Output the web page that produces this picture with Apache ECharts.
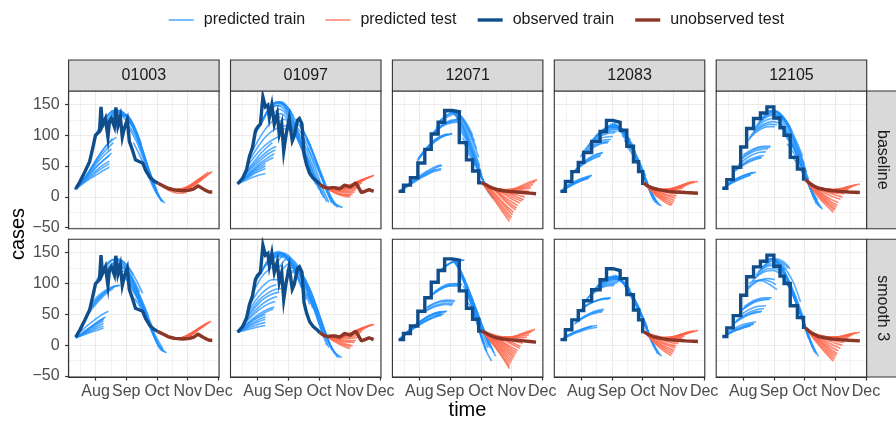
<!DOCTYPE html>
<html>
<head>
<meta charset="utf-8">
<script src="https://cdn.jsdelivr.net/npm/echarts@6/dist/echarts.min.js"></script>
<style>
  html, body { margin: 0; padding: 0; background: #fff; }
  #chart { width: 896px; height: 422px; }
</style>
</head>
<body>
<div id="chart"></div>
<script>
// facets
const counties = ['01003', '01097', '12071', '12083', '12105'];
const models = ['baseline', 'smooth 3'];
const monthLabels = ['Aug', 'Sep', 'Oct', 'Nov', 'Dec'];
const yTicks = [-50, 0, 50, 100, 150];
// day offsets (from 1 Jul) at which Jul..Jan start
const monthStartDays = [0, 31, 62, 92, 123, 153, 184];
// counties reported weekly -> drawn as steps
const stepCounties = ['12071', '12083', '12105'];

// observed series: [day since 1 Jul, cases]
const obsTrain01003 = [[11,13],[15,24],[20,40],[25,57],[28,78],[31,100],[33,103],[35,106],[36.5,146],[38,116],[41,127],[43.5,97],[45,122],[47,127],[50,114],[51.5,145],[53.5,115],[56,130],[58,97],[60,111],[63,125],[65,90],[68,76],[71,60],[75,57],[78,55],[81,43],[85,32],[89,26],[93,22]];
const obsTest01003 = [[93,22],[98,18],[103,14],[110,11],[118,10],[125,11],[129,13],[133,18],[136,15],[140,11],[144,8],[147,8]];
const obsTrain01097 = [[11,21],[16,30],[20,44],[23,66],[26,80],[29,107],[31,113],[34,118],[36.5,162],[39,146],[41.5,149],[43,129],[45.5,149],[48,118],[51,135],[53,102],[55.5,118],[57.5,74],[60,102],[63,127],[66,91],[68,99],[71,124],[73,127],[75.5,118],[77.5,69],[80,52],[83,38],[86.5,30],[91,24],[93,20]];
const obsTest01097 = [[93,20],[97,16],[101,14],[105,15],[108,15],[113,13],[118,19],[124,16],[129,23],[131.5,16],[134.5,7],[138,9],[142,12],[146.5,9]];
const obsTrain12071 = [[10,9],[15,19],[22,31],[29.5,55],[36.5,77],[43,102],[50,121],[56.5,140],[64,138],[71,88],[78,60],[84,42],[90,23],[93,23]];
const obsTest12071 = [[93,23],[97,20],[100,17],[104,14],[108,12],[114,10],[120,9],[128,8],[135,7],[141,6],[147,5]];
const obsTrain12083 = [[10,9],[15,25],[21.5,41],[28,56],[33.5,72],[41.5,90],[50,106],[56.5,124],[63,121],[70,108],[76.5,82],[83,57],[88,41],[92,22],[93,22]];
const obsTest12083 = [[93,22],[97,18],[102,14],[110,11],[118,9],[126,8],[135,7],[147,6]];
const obsTrain12105 = [[10,14],[14.5,28],[21,48],[28.5,81],[34.5,111],[41.5,127],[48.5,136],[55,146],[62,128],[68,112],[72,100],[78,64],[85,45],[91,29],[93,28]];
const obsTest12105 = [[93,28],[97,22],[101,18],[106,14],[112,12],[120,10],[128,9],[136,8],[147,7]];

// predicted curves: [start day, value at start, +7 days, +14 days, ...]
const predTrainBase01003 = [
  [10,12,20,28,35,42,48],[10,12,22,32,42,51,58],[10,12,24,36,48,58,67],[12,15,28,42,56,68,78],
  [14,18,33,49,64,77,88],[17,22,40,58,75,88,97],[31,100,122,135,138,130],[35,108,128,140,140,128],
  [38,112,130,140,136,120],[42,118,133,137,128,108],[45,120,132,134,120,98],[49,124,134,132,114,84],
  [53,128,134,120,92,58,26],[57,130,128,108,76,40,10],[61,126,114,86,52,18,-4],[65,110,90,60,28,2,-10],
  [69,88,64,36,10,-8],
  [10,12,21,30,39,47,54],[12,15,26,38,50,61,71],[20,30,48,66,82,94],[33,104,125,138,140,130],
  [40,115,132,139,133,115],[47,122,133,134,118,92],[55,130,132,116,86,50,18],[59,128,120,98,64,28,2],
  [63,118,102,74,40,10,-8]
];
const predTestBase01003 = [
  [94,22,16,13,12,13],[94,22,13,8,6,7],[98,18,14,12,13,16],[101,16,12,12,15,20],[105,14,12,14,19,26],
  [108,12,12,16,23,31],[112,11,13,19,27,36],[115,10,14,21,30,40],[119,10,15,23,32,41],
  [96,20,14,11,11,14],[103,15,12,13,17,23],[110,12,12,17,25,33],[117,10,14,22,31,40]
];
const predTrainSmooth01003 = [
  [11,12,16,20,24,28],[11,12,18,24,30,35],[11,12,20,28,35,42],[13,14,22,31,39,46],[16,22,32,41,49,55],
  [21,45,60,73,84,92],[24,55,70,82,91,97],[28,70,82,90,95,97],[32,105,125,137,140,134],
  [36,112,130,139,137,126,108,84],[40,118,132,136,128,110,86],[45,122,131,128,112,88,60,32],
  [50,122,126,114,92,64,34,6],[55,118,112,94,68,40,12,-8],[60,110,96,74,48,20,-6,-12],
  [65,96,78,54,28,2,-11],[70,76,58,36,14,-6],
  [11,12,17,22,27,31],[11,12,19,26,33,39],[12,13,21,29,37,44],[22,50,65,78,88,95],[26,62,76,86,93,97],
  [34,108,128,138,139,131,114],[42,120,132,133,122,100,74,46],[47,122,129,122,104,78,48,20],
  [52,120,120,106,82,52,22,-2],[57,114,104,84,58,30,4,-10]
];
const predTestSmooth01003 = [
  [94,22,15,11,10,12],[98,18,12,10,12,16],[102,15,11,11,15,21],[106,13,11,14,20,27],
  [110,12,12,17,24,32],[114,11,14,20,28,36],[118,10,15,23,31,39],
  [96,20,13,10,11,14],[100,16,11,10,13,18],[104,14,11,12,17,24],[108,12,11,15,22,30],
  [112,11,13,19,26,34],[116,10,14,21,30,38]
];
const predTrainBase01097 = [
  [11,21,26,31,35,38],[11,21,28,35,41,46],[11,21,30,39,47,54],[13,24,34,45,55,63,70],[15,30,43,56,67,76,82],
  [18,38,52,66,78,88],[21,50,65,78,88,95,100],[26,75,95,112,124,130],[30,105,128,145,152,150,138],
  [34,115,138,152,154,144,124],[38,130,148,154,146,126,98],[43,135,148,144,126,100,70],
  [48,128,135,124,102,74,44],[54,112,116,104,80,50,20],[60,110,106,88,62,32,4],[65,115,104,80,50,18,-8],
  [70,122,106,80,48,16,-10],[76,110,86,56,24,-4,-17],[81,80,56,30,6,-12,-17],
  [11,21,29,37,44,50],[12,22,32,42,51,58,64],[14,27,39,51,61,70,76],[24,62,80,95,106,112],
  [32,110,133,149,153,147,131],[36,122,143,153,150,135,111],[41,133,148,149,136,113,84],
  [46,132,142,134,114,87,57],[51,120,126,114,91,62,32],[57,110,110,96,71,41,12],[62,112,105,84,56,25,-2],
  [67,118,105,80,49,17,-9],[73,118,96,68,36,6,-14],[79,95,70,44,16,-8,-17]
];
const predTestBase01097 = [
  [95,19,12,6,2,0],[98,17,11,6,4,4],[101,15,11,9,9,11],[105,15,13,13,15,19],
  [108,15,15,17,21,26],[112,14,16,20,25,30],[116,16,19,24,29,33],[119,17,21,26,31,35],
  [96,18,11,6,3,2],[100,16,11,8,7,8],[103,15,12,11,12,15],[107,15,14,15,18,23],
  [110,14,15,18,23,28],[114,15,17,22,27,31],[118,16,20,25,30,34]
];
const predTrainSmooth01097 = [
  [11,21,24,27,30,32],[11,21,27,33,38,42],[11,21,30,38,45,50],[13,24,34,44,52,58,62],[16,32,46,58,68,75,79],
  [20,45,62,75,84,90,92],[25,70,88,100,106,106],[30,105,125,138,144,142,132],[34,115,135,148,150,142,124],
  [38,128,145,152,146,130,104],[43,132,145,146,134,112,82],[48,140,150,146,128,100,66],
  [54,128,140,136,118,88,54],[60,120,126,114,90,58,24],[65,118,116,96,66,32,0],
  [70,125,112,88,56,22,-8],[76,112,90,60,28,-2,-20],[80,84,60,34,8,-12,-20],
  [11,21,26,30,34,37],[11,21,28,35,41,46],[12,22,32,41,48,54,59],[14,28,40,51,60,67,71],
  [18,38,54,67,77,83,86],[22,55,72,85,94,98],[28,90,110,122,128,128],[32,110,130,143,147,142,128],
  [36,122,140,150,148,136,114],[40,130,146,150,140,121,93],[45,136,148,146,131,106,74],
  [51,134,145,141,123,94,60],[57,124,133,125,104,73,39],[62,119,121,105,78,45,12],
  [67,121,114,92,61,27,-4],[73,120,102,74,42,10,-14],[78,98,75,47,18,-7,-20]
];
const predTestSmooth01097 = [
  [95,19,12,5,-1,-6],[98,17,11,6,2,-1],[101,15,11,8,7,8],[105,14,12,12,14,18],
  [108,14,14,17,21,25],[112,14,16,20,25,29],[116,16,19,24,29,33],[119,17,21,26,30,34],
  [96,18,11,5,1,-3],[100,16,11,7,5,5],[103,15,11,10,11,13],[107,14,13,15,18,22],
  [110,14,15,18,23,27],[114,15,17,22,27,31],[118,16,20,25,30,33]
];
const predTrainBase12071 = [
  [11,9,17,25,32,38,43,46],[11,9,18,27,35,42,48,52],[13,11,19,27,34,40,45],[29,58,72,84,93,99,102],
  [30,62,77,89,97,102],[32,66,80,91,98,102],[43,98,110,118,122,123],[44,102,113,120,124,125],
  [50,120,130,136,138],[56,136,140,136,122,100],[60,138,138,126,105,78],[63,138,130,110,82,50],
  [66,135,118,92,60,28],[70,118,98,70,40,12],[74,96,76,50,24,2],[78,76,56,34,12,-4],
  [11,9,16,23,30,36,41,44],[12,10,18,26,34,41,47,51],[29,60,75,87,95,100,103],[31,64,78,90,97,101],
  [42,96,108,116,120,121],[45,104,115,122,125,125],[48,112,125,132,135],[52,124,133,138,139],
  [58,138,140,132,114,90],[62,138,134,118,94,64],[65,136,122,98,68,36],[68,128,108,80,50,20],
  [72,108,88,60,32,6],[76,86,66,42,18,-2]
];
const predTestBase12071 = [
  [93,23,8,-8,-24,-40],[95,21,8,-6,-20,-33],[97,20,9,-3,-15,-25],[100,18,10,0,-10,-18],
  [103,16,10,3,-4,-10],[107,14,10,5,0,-5],[110,13,11,8,6,5],[114,12,12,12,13,15],
  [118,11,13,16,20,25],[120,10,14,19,24,28],
  [94,22,8,-7,-22,-36],[96,21,9,-4,-17,-29],[99,19,10,-1,-12,-21],[101,17,10,1,-7,-14],
  [105,15,10,4,-2,-7],[108,14,11,6,3,0],[112,12,11,10,9,10],[116,11,12,14,16,20]
];
const predTrainSmooth12071 = [
  [11,10,20,29,37,44,49,52],[11,10,19,27,34,40,45,48],[14,13,22,30,37,43,48,51],[30,36,44,50,53,54],
  [37,56,62,66,68,67],[38,60,66,70,71,70],[43,80,88,94,96,96],[45,84,92,97,99,97],
  [52,120,130,136,138],[55,124,133,137,138],[64,138,124,100,70,38],[66,138,114,80,42,4],
  [68,136,108,72,34,-4,-26],[70,130,100,64,26,-10],[72,118,94,64,32,0],[75,96,76,50,22,-6],
  [79,70,52,30,6,-18],
  [11,10,21,31,39,46,51,54],[12,11,20,28,36,42,47,50],[31,37,45,51,54,55],[36,54,60,64,66,65],
  [39,62,68,72,73,72],[44,82,90,95,97,97],[46,86,94,99,100,98],[53,122,131,136,138],[54,123,132,137,138],
  [65,138,120,92,58,22],[67,137,112,78,40,2],[69,134,104,68,30,-8],[71,124,98,66,30,-4],
  [73,110,88,60,28,-4],[77,84,64,40,14,-12]
];
const predTestSmooth12071 = [
  [93,23,10,-4,-20,-38],[94,23,11,-2,-16,-30],[96,22,12,0,-12,-24],[98,21,12,2,-8,-18],
  [100,20,13,4,-4,-12],[103,18,13,7,1,-5],[106,16,13,9,6,3],[110,14,13,12,12,13],
  [114,12,13,15,18,21],[118,11,14,18,22,26],
  [93,23,10,-3,-18,-34],[95,22,11,-1,-14,-27],[97,21,12,1,-10,-21],[99,20,12,3,-6,-15],
  [101,19,13,5,-2,-9],[104,17,13,8,3,-2],[108,15,13,10,9,8],[112,13,13,13,15,17],[116,12,13,16,20,24]
];
const predTrainBase12083 = [
  [10,9,15,21,26,30],[12,12,18,24,29,33],[14,16,22,28,32,35],[22,38,48,56,62,66],[24,42,52,61,67,71],
  [30,65,74,81,86,88],[33,74,82,88,92,93],[37,82,92,99,103,104],[41,90,100,106,109,109],
  [45,98,107,112,113,110],[50,104,112,114,110,100],[55,112,116,112,100,82],[60,118,114,102,84,60,34],
  [64,120,110,92,68,40,10],[68,112,98,76,50,22,-6],[72,100,84,62,36,10,-12],[76,84,66,44,20,-4,-15],
  [11,10,16,22,27,31],[13,14,20,26,30,34],[23,40,50,58,64,68],[25,44,54,63,69,72],[31,68,77,84,88,90],
  [35,78,87,94,97,98],[39,86,96,103,106,106],[43,94,104,109,111,110],[47,100,109,113,112,106],
  [52,108,114,114,106,92],[57,114,116,108,92,72],[62,120,112,98,76,50,22],[66,116,104,84,58,30,2],
  [70,106,92,70,44,16,-10],[74,92,76,54,28,4,-14]
];
const predTestBase12083 = [
  [93,22,10,0,-8,-14],[95,20,10,2,-4,-9],[97,19,11,5,1,-2],[100,17,12,8,6,6],[104,15,12,11,12,14],
  [108,13,12,13,16,20],[112,12,13,16,20,24],[116,11,14,18,22,25],[119,10,14,18,22,25],
  [94,21,10,1,-6,-12],[96,20,10,3,-2,-6],[98,18,11,6,3,2],[102,16,12,10,9,10],[106,14,12,12,14,17],
  [110,12,12,14,18,22],[114,11,13,17,21,25]
];
const predTrainSmooth12083 = [
  [12,10,16,21,26,30,32],[14,14,19,24,28,31],[24,34,42,48,52,54],[26,38,46,52,56,58],[31,58,66,71,74,75],
  [33,62,68,73,76,77],[36,74,84,92,96,97],[39,80,90,97,101,101],[43,88,98,104,106,104],
  [47,96,104,108,107,100],[52,104,110,110,103,90],[58,110,110,102,86,64,40],[62,112,108,96,78,54,28],
  [65,114,104,88,66,40,12],[68,112,98,78,54,26,-2],[72,104,88,66,40,12,-14],[76,90,72,50,24,-2,-18],
  [12,10,15,20,24,27,29],[13,12,18,23,27,30],[25,36,44,50,54,56],[32,60,67,72,75,76],[37,76,86,94,98,99],
  [41,84,94,101,104,103],[45,92,101,106,107,103],[50,100,107,109,105,95],[55,108,110,106,95,78,56],
  [60,111,108,99,82,60,34],[63,113,106,92,72,47,20],[66,113,101,83,60,33,5],[70,108,93,72,47,19,-8],
  [74,97,80,58,32,5,-16]
];
const predTestSmooth12083 = [
  [93,23,10,-1,-10,-17],[95,21,10,1,-6,-11],[97,20,11,4,-1,-4],[100,18,12,7,4,3],[104,16,12,10,10,12],
  [108,14,12,13,15,18],[112,12,13,15,19,22],[116,11,13,17,20,23],[119,10,13,17,21,24],
  [94,22,10,0,-8,-14],[96,20,10,2,-4,-8],[98,19,11,5,1,-1],[102,17,12,8,7,7],[106,15,12,11,12,15],
  [110,13,12,14,17,20],[114,12,13,16,20,23]
];
const predTrainBase12105 = [
  [10,13,20,26,31,35],[13,18,25,31,36,39],[16,22,29,34,38,40],[21,40,48,55,60,63],[24,45,54,61,65,67],
  [28,60,68,74,77,78],[31,68,75,80,82,82],[35,90,102,110,114,114],[39,100,112,119,122,120],
  [43,112,124,131,132,126],[47,122,132,136,132,120],[52,132,140,138,126,106],[57,138,138,128,108,82,52],
  [61,140,134,116,90,60,28],[65,128,114,92,64,34,4],[69,114,98,74,46,16,-12],[73,100,82,58,30,2,-18],
  [77,72,56,36,14,-6],
  [11,14,21,27,32,36],[14,19,26,32,36,39],[22,42,50,57,62,64],[26,52,61,68,72,73],[30,64,72,78,80,80],
  [37,95,107,115,118,117],[41,106,118,125,127,123],[45,117,128,134,132,123],[50,128,137,138,129,113],
  [55,136,140,133,117,94,66],[59,140,136,122,99,71,40],[63,134,124,104,77,47,16],[67,121,106,83,55,25,-4],
  [71,107,90,66,38,9,-15],[75,86,69,47,22,-2,-20]
];
const predTestBase12105 = [
  [93,27,12,-2,-14,-25],[95,25,12,0,-11,-20],[97,23,12,2,-7,-14],[100,20,12,5,0,-4],[104,17,12,8,6,5],
  [108,15,12,11,11,12],[112,13,12,12,14,17],[116,12,12,14,17,20],[119,11,12,15,18,21],
  [94,26,12,-1,-12,-22],[96,24,12,1,-9,-17],[98,22,12,3,-4,-9],[102,18,12,7,3,0],[106,16,12,10,9,9],
  [110,14,12,11,13,15],[114,12,12,13,16,19]
];
const predTrainSmooth12105 = [
  [10,13,19,24,28,31],[13,16,22,27,31,34],[16,22,28,33,36,38],[21,34,42,48,52,54],[24,40,48,54,58,59],
  [29,56,64,70,73,74],[32,62,70,75,77,77],[35,90,100,106,108,106],[37,100,105,104,98,90],
  [42,108,118,124,124,118],[46,118,128,132,130,122],[50,126,136,140,136,124],[56,140,138,126,104,76,44],
  [60,142,132,112,84,52,18],[63,136,122,98,68,36,4],[67,120,104,80,50,18,-12],[71,108,90,64,34,4,-18],
  [11,14,20,25,29,32],[14,18,24,29,33,35],[22,36,44,50,54,55],[26,46,54,60,63,64],[30,58,66,72,75,75],
  [36,94,103,106,104,98],[40,104,114,120,121,116],[44,114,124,129,129,122],[48,122,132,137,135,125],
  [53,134,140,136,122,102,70],[58,141,136,120,94,64,31],[61,140,128,106,77,45,11],[65,128,113,89,59,27,-4],
  [69,114,97,72,42,11,-15]
];
const predTestSmooth12105 = [
  [93,28,13,-1,-14,-26],[95,26,13,1,-10,-20],[97,24,13,3,-6,-14],[100,21,13,6,0,-5],[104,18,13,9,6,5],
  [108,16,13,11,11,12],[112,14,13,13,15,17],[116,12,13,15,18,20],[119,11,13,16,19,21],
  [94,27,13,0,-12,-23],[96,25,13,2,-8,-17],[98,22,13,5,-3,-9],[102,19,13,8,3,0],[106,17,13,10,9,9],
  [110,15,13,12,13,15],[114,13,13,14,16,19]
];

const observed = {
  '01003': [obsTrain01003, obsTest01003], '01097': [obsTrain01097, obsTest01097],
  '12071': [obsTrain12071, obsTest12071], '12083': [obsTrain12083, obsTest12083],
  '12105': [obsTrain12105, obsTest12105]
};
const predicted = {
  'baseline': {
    '01003': [predTrainBase01003, predTestBase01003], '01097': [predTrainBase01097, predTestBase01097],
    '12071': [predTrainBase12071, predTestBase12071], '12083': [predTrainBase12083, predTestBase12083],
    '12105': [predTrainBase12105, predTestBase12105]
  },
  'smooth 3': {
    '01003': [predTrainSmooth01003, predTestSmooth01003], '01097': [predTrainSmooth01097, predTestSmooth01097],
    '12071': [predTrainSmooth12071, predTestSmooth12071], '12083': [predTrainSmooth12083, predTestSmooth12083],
    '12105': [predTrainSmooth12105, predTestSmooth12105]
  }
};

// day offset -> position on a month axis (Aug = 8 ... Dec = 12)
function monthPos(day) {
  for (let m = 0; m < monthStartDays.length - 1; m++) {
    const a = monthStartDays[m], b = monthStartDays[m + 1];
    if (day < b) return 7 + m + (day - a) / (b - a);
  }
  return 13;
}
function curvePoints(row) {
  return row.slice(1).map((v, k) => [monthPos(row[0] + 7 * k), v]);
}

const FONT = '"Liberation Sans", Arial, sans-serif';
const COL = {
  predTrain: '#1E90FF', predTest: '#FF6347', obsTrain: '#104E8B', obsTest: '#8B3626'
};
const panelW = 150.5, panelH = 137.7;
const panelLefts = counties.map((c, i) => 68.6 + i * 161.9);
const panelTops = [91, 239.3];
const xMin = monthPos(3.8), xMax = monthPos(153.7);
const yMin = -51.6, yMax = 171.7;
const frame = { color: '#333333', width: 1.1 };

const grids = [], xAxes = [], yAxes = [], series = [], graphics = [];

models.forEach((model, row) => {
  counties.forEach((county, col) => {
    const g = row * counties.length + col;
    const bottomRow = row === models.length - 1, leftCol = col === 0;
    grids.push({
      left: panelLefts[col], top: panelTops[row], width: panelW, height: panelH,
      show: false, containLabel: false
    });
    xAxes.push({
      type: 'value', gridIndex: g, min: xMin, max: xMax, position: 'bottom',
      splitNumber: 5, minInterval: 1, maxInterval: 1,
      axisLine: { show: bottomRow, onZero: false, lineStyle: frame },
      axisTick: {
        show: bottomRow, length: 3.5, customValues: [8, 9, 10, 11, 12],
        lineStyle: { color: '#333333', width: 1.2 }
      },
      axisLabel: {
        show: bottomRow, customValues: [8, 9, 10, 11, 12], margin: 7,
        formatter: v => monthLabels[Math.round(v) - 8],
        color: '#4D4D4D', fontSize: 16, fontFamily: FONT
      },
      splitLine: { show: true, lineStyle: { color: '#EBEBEB', width: 1.1 } },
      minorTick: { show: false, splitNumber: 2 },
      minorSplitLine: { show: true, lineStyle: { color: '#EBEBEB', width: 0.6 } }
    });
    yAxes.push({
      type: 'value', gridIndex: g, min: yMin, max: yMax, position: 'left',
      splitNumber: 5, minInterval: 50, maxInterval: 50,
      axisLine: { show: leftCol, onZero: false, lineStyle: frame },
      axisTick: {
        show: leftCol, length: 3.5, customValues: yTicks,
        lineStyle: { color: '#333333', width: 1.2 }
      },
      axisLabel: {
        show: leftCol, customValues: yTicks, margin: 9,
        formatter: v => (v < 0 ? '\u2212' + Math.abs(v) : String(v)),
        color: '#4D4D4D', fontSize: 16, fontFamily: FONT
      },
      splitLine: { show: true, lineStyle: { color: '#EBEBEB', width: 1.1 } },
      minorTick: { show: false, splitNumber: 2 },
      minorSplitLine: { show: true, lineStyle: { color: '#EBEBEB', width: 0.6 } }
    });

    const [trainCurves, testCurves] = predicted[model][county];
    const [obsTrain, obsTest] = observed[county];
    const base = { type: 'line', xAxisIndex: g, yAxisIndex: g, symbol: 'none', silent: true, animation: false };

    trainCurves.forEach(c => series.push(Object.assign({}, base, {
      name: 'predicted train', data: curvePoints(c), smooth: 0.35,
      lineStyle: { color: COL.predTrain, width: 1.6, opacity: 0.75 }, itemStyle: { color: COL.predTrain }
    })));
    testCurves.forEach(c => series.push(Object.assign({}, base, {
      name: 'predicted test', data: curvePoints(c), smooth: 0.35,
      lineStyle: { color: COL.predTest, width: 1.6, opacity: 0.8 }, itemStyle: { color: COL.predTest }
    })));
    series.push(Object.assign({}, base, {
      name: 'observed train', data: obsTrain.map(p => [monthPos(p[0]), p[1]]),
      step: stepCounties.includes(county) ? 'end' : false,
      lineStyle: { color: COL.obsTrain, width: 3.4, join: 'miter' }, itemStyle: { color: COL.obsTrain }
    }));
    series.push(Object.assign({}, base, {
      name: 'unobserved test', data: obsTest.map(p => [monthPos(p[0]), p[1]]),
      lineStyle: { color: COL.obsTest, width: 3.4 }, itemStyle: { color: COL.obsTest }
    }));

    // panel border on top of the data
    graphics.push({
      type: 'rect', z: 100, silent: true,
      shape: { x: panelLefts[col], y: panelTops[row], width: panelW, height: panelH },
      style: { fill: 'none', stroke: '#333333', lineWidth: 1.1 }
    });
  });
});

// column strips
counties.forEach((county, col) => {
  graphics.push({
    type: 'rect', z: 100, silent: true,
    shape: { x: panelLefts[col], y: 60, width: panelW, height: 31 },
    style: { fill: '#D9D9D9', stroke: '#333333', lineWidth: 1.1 }
  });
  graphics.push({
    type: 'text', z: 101, silent: true, x: panelLefts[col] + panelW / 2, y: 75.5,
    style: { text: county, fill: '#1A1A1A', font: '16px ' + FONT, align: 'center', verticalAlign: 'middle' }
  });
});
// row strips
models.forEach((model, row) => {
  const x0 = panelLefts[4] + panelW;
  graphics.push({
    type: 'rect', z: 100, silent: true,
    shape: { x: x0, y: panelTops[row], width: 31, height: panelH },
    style: { fill: '#D9D9D9', stroke: '#333333', lineWidth: 1.1 }
  });
  graphics.push({
    type: 'text', z: 101, silent: true, x: x0 + 15.5, y: panelTops[row] + panelH / 2,
    rotation: -Math.PI / 2,
    style: { text: model, fill: '#1A1A1A', font: '16px ' + FONT, align: 'center', verticalAlign: 'middle' }
  });
});
// axis titles
graphics.push({
  type: 'text', silent: true, x: 18, y: 234, rotation: Math.PI / 2,
  style: { text: 'cases', fill: '#000', font: '20px ' + FONT, align: 'center', verticalAlign: 'middle' }
});
graphics.push({
  type: 'text', silent: true, x: 467.5, y: 410,
  style: { text: 'time', fill: '#000', font: '20px ' + FONT, align: 'center', verticalAlign: 'middle' }
});

const chart = echarts.init(document.getElementById('chart'), null, { renderer: 'canvas' });
chart.setOption({
  animation: false,
  backgroundColor: '#ffffff',
  legend: {
    left: 163, top: 7, itemWidth: 25, itemHeight: 16, itemGap: 19.5, selectedMode: false,
    itemStyle: { opacity: 0 },
    textStyle: { fontSize: 16, color: '#1A1A1A', fontFamily: FONT, padding: [0, 0, 0, 5] },
    data: [
      { name: 'predicted train', lineStyle: { width: 1.5, opacity: 0.8 } },
      { name: 'predicted test', lineStyle: { width: 1.5, opacity: 0.8 } },
      { name: 'observed train', lineStyle: { width: 3.4 } },
      { name: 'unobserved test', lineStyle: { width: 3.4 } }
    ]
  },
  grid: grids,
  xAxis: xAxes,
  yAxis: yAxes,
  series: series,
  graphic: graphics
});
</script>
</body>
</html>
